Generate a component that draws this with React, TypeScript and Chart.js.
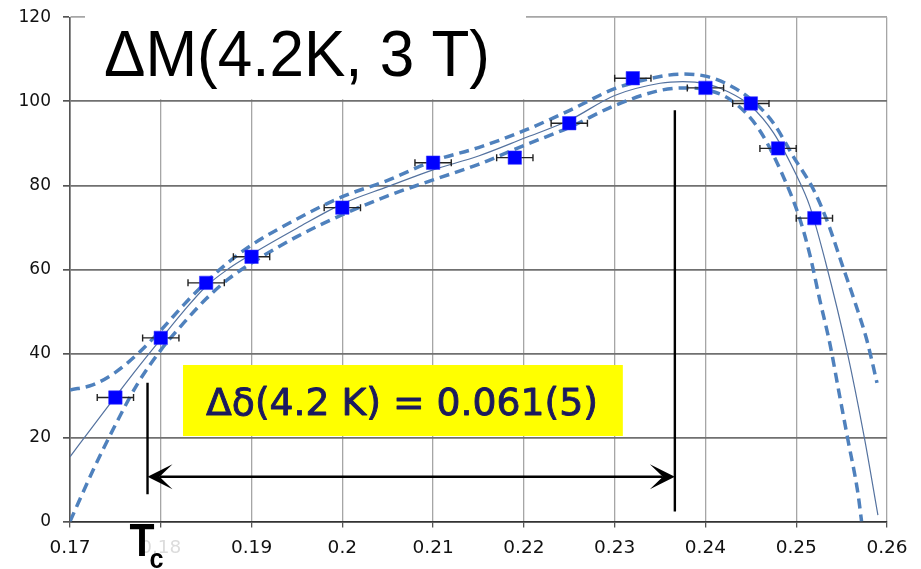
import React, { useEffect, useRef } from 'react';
import { Chart, registerables } from 'chart.js';

Chart.register(...registerables);

// Axis tick labels
const xTickLabels = ['0.17', '0.18', '0.19', '0.2', '0.21', '0.22', '0.23', '0.24', '0.25', '0.26'];
const yTickLabels = ['0', '20', '40', '60', '80', '100', '120'];

// Measured ΔM(4.2 K, 3 T) points with horizontal uncertainty
const deltaX = [0.175, 0.18, 0.185, 0.19, 0.2, 0.21, 0.219, 0.225, 0.232, 0.24, 0.245, 0.248, 0.252];
const deltaM = [29.5, 43.7, 56.8, 63.0, 74.7, 85.4, 86.6, 94.8, 105.5, 103.2, 99.5, 88.8, 72.2];
const deltaXErr = [0.002, 0.002, 0.002, 0.002, 0.002, 0.002, 0.002, 0.002, 0.002, 0.002, 0.002, 0.002, 0.002];

// Fitted curve
const fitX = [0.170, 0.1725, 0.175, 0.1775, 0.180, 0.1825, 0.185, 0.1875, 0.190, 0.195, 0.200, 0.205, 0.210, 0.215, 0.220, 0.225, 0.230, 0.235, 0.2375, 0.240, 0.2425, 0.245, 0.2475, 0.250, 0.2515, 0.2532, 0.2556, 0.2575, 0.259];
const fitY = [15.4, 22.6, 29.7, 36.7, 43.4, 50.0, 56.0, 60.2, 63.6, 69.8, 75.6, 79.7, 83.7, 87.0, 91.2, 95.5, 101.4, 104.3, 104.7, 104.2, 102.3, 98.9, 92.5, 82.5, 75.0, 62.0, 40.5, 20.0, 1.5];

// Confidence band: upper / right branch
const upperX = [0.170, 0.1725, 0.175, 0.1775, 0.180, 0.1825, 0.185, 0.1875, 0.190, 0.195, 0.200, 0.205, 0.210, 0.215, 0.220, 0.225, 0.230, 0.235, 0.2375, 0.240, 0.2425, 0.245, 0.2475, 0.2497, 0.2519, 0.2535, 0.255, 0.2565, 0.2578, 0.2589];
const upperY = [31.3, 32.5, 35.5, 40.0, 45.5, 51.5, 57.0, 61.8, 65.8, 72.0, 77.3, 81.2, 85.8, 89.0, 93.0, 97.8, 103.0, 105.9, 106.5, 106.0, 104.0, 100.5, 94.8, 86.8, 79.0, 71.0, 61.5, 52.0, 43.0, 33.0];

// Confidence band: lower / left branch
const lowerX = [0.170, 0.1725, 0.175, 0.1775, 0.180, 0.1825, 0.185, 0.1875, 0.190, 0.195, 0.200, 0.205, 0.210, 0.215, 0.220, 0.225, 0.230, 0.235, 0.2375, 0.240, 0.243, 0.246, 0.2489, 0.2504, 0.2515, 0.2526, 0.2537, 0.2548, 0.2557, 0.2568, 0.2572];
const lowerY = [0, 12, 23, 33, 40.8, 47.2, 53, 57.8, 61.5, 67.8, 73, 77.5, 81.3, 85, 89.5, 93.8, 99, 102.6, 103.2, 102.8, 100, 93, 80.5, 72, 63.5, 52.7, 42.4, 29.7, 19.4, 6.7, 0];

// Width marker: from Tc to the end of the plateau
const tcX = 0.17854;
const endX = 0.23663;
const arrowY = 10.66;

const titleText = 'ΔM(4.2K, 3 T)';
const widthText = 'Δδ(4.2 K) = 0.061(5)';

const pairs = (xs: number[], ys: number[]) => xs.map((x, i) => ({ x, y: ys[i] }));

function fitText(ctx: CanvasRenderingContext2D, text: string, x: number, y: number, width: number, font: string, color: string, stroke = 0) {
  ctx.save();
  ctx.font = font;
  ctx.fillStyle = color;
  ctx.strokeStyle = color;
  ctx.textAlign = 'left';
  ctx.textBaseline = 'alphabetic';
  const w = ctx.measureText(text).width;
  ctx.translate(x, y);
  ctx.scale(width / w, 1);
  ctx.fillText(text, 0, 0);
  if (stroke > 0) {
    ctx.lineWidth = stroke;
    ctx.lineJoin = 'round';
    ctx.strokeText(text, 0, 0);
  }
  ctx.restore();
}

function arrowHead(ctx: CanvasRenderingContext2D, tipX: number, y: number, dir: number) {
  const L = 25, W = 12.5, N = 12;
  ctx.beginPath();
  ctx.moveTo(tipX, y);
  ctx.lineTo(tipX - dir * L, y - W);
  ctx.lineTo(tipX - dir * N, y);
  ctx.lineTo(tipX - dir * L, y + W);
  ctx.closePath();
  ctx.fill();
}

const errorBars = {
  id: 'errorBars',
  beforeDatasetDraw(chart: any, args: any) {
    if (args.index !== 0) return;
    const { ctx } = chart;
    const xs = chart.scales.x;
    const ys = chart.scales.y;
    ctx.save();
    ctx.strokeStyle = '#222';
    ctx.lineWidth = 1.4;
    deltaX.forEach((x, i) => {
      const y = ys.getPixelForValue(deltaM[i]);
      const x0 = xs.getPixelForValue(x - deltaXErr[i]);
      const x1 = xs.getPixelForValue(x + deltaXErr[i]);
      ctx.beginPath();
      ctx.moveTo(x0, y);
      ctx.lineTo(x1, y);
      ctx.moveTo(x0, y - 3.5);
      ctx.lineTo(x0, y + 3.5);
      ctx.moveTo(x1, y - 3.5);
      ctx.lineTo(x1, y + 3.5);
      ctx.stroke();
    });
    ctx.restore();
  },
};

const annotations = {
  id: 'annotations',
  beforeDatasetsDraw(chart: any) {
    const { ctx, chartArea } = chart;
    // white panel behind the title
    ctx.save();
    ctx.fillStyle = '#ffffff';
    ctx.fillRect(chartArea.left + 15, chartArea.top - 6, 441, 88);
    ctx.restore();
    fitText(ctx, titleText, chartArea.left + 34, chartArea.top + 58.5, 386, '65px "Liberation Sans", Arial, sans-serif', '#000');
  },
  afterDraw(chart: any) {
    const { ctx } = chart;
    const xs = chart.scales.x;
    const ys = chart.scales.y;

    // yellow result box
    const bx0 = xs.getPixelForValue(0.18245);
    const bx1 = xs.getPixelForValue(0.2309);
    const by0 = ys.getPixelForValue(37.25);
    const by1 = ys.getPixelForValue(20.35);
    ctx.save();
    ctx.fillStyle = '#ffff00';
    ctx.fillRect(bx0, by0, bx1 - bx0, by1 - by0);
    ctx.restore();
    fitText(ctx, widthText, bx0 + 23, by1 - 21, 392, '37px "DejaVu Sans", sans-serif', '#1b1a5e', 0.9);

    // vertical markers
    const lx = xs.getPixelForValue(tcX);
    const rx = xs.getPixelForValue(endX);
    const ay = ys.getPixelForValue(arrowY);
    ctx.save();
    ctx.strokeStyle = '#000';
    ctx.fillStyle = '#000';
    ctx.lineWidth = 2.4;
    ctx.beginPath();
    ctx.moveTo(lx, ys.getPixelForValue(33));
    ctx.lineTo(lx, ys.getPixelForValue(6.5));
    ctx.moveTo(rx, ys.getPixelForValue(97.9));
    ctx.lineTo(rx, ys.getPixelForValue(2.4));
    ctx.stroke();

    // double-headed arrow
    ctx.lineWidth = 2.6;
    ctx.beginPath();
    ctx.moveTo(lx + 12, ay);
    ctx.lineTo(rx - 12, ay);
    ctx.stroke();
    arrowHead(ctx, lx, ay, -1);
    arrowHead(ctx, rx, ay, 1);
    ctx.restore();

    // Tc label
    const base = ys.getPixelForValue(0);
    fitText(ctx, 'T', lx - 18, base + 34, 25, 'bold 47px "Liberation Sans", Arial, sans-serif', '#000');
    fitText(ctx, 'c', lx + 2, base + 46, 14, 'bold 27px "Liberation Sans", Arial, sans-serif', '#000');
  },
};

export default function App() {
  const ref = useRef<HTMLCanvasElement>(null);

  useEffect(() => {
    const canvas = ref.current;
    if (!canvas) return;
    const chart = new Chart(canvas, {
      type: 'scatter',
      data: {
        datasets: [
          {
            type: 'scatter',
            label: 'ΔM',
            data: pairs(deltaX, deltaM),
            pointStyle: 'rect',
            pointRadius: 9.5,
            backgroundColor: '#0000ff',
            borderColor: 'rgba(50,50,255,0.55)',
            borderWidth: 1,
            order: 0,
          },
          {
            type: 'line',
            label: 'fit',
            data: pairs(fitX, fitY),
            borderColor: '#54729f',
            borderWidth: 1.2,
            pointRadius: 0,
            cubicInterpolationMode: 'monotone',
            fill: false,
            order: 1,
          },
          {
            type: 'line',
            label: 'upper',
            data: pairs(upperX, upperY),
            borderColor: '#4f81bd',
            borderWidth: 3.5,
            borderDash: [10, 6],
            pointRadius: 0,
            cubicInterpolationMode: 'monotone',
            fill: false,
            order: 2,
          },
          {
            type: 'line',
            label: 'lower',
            data: pairs(lowerX, lowerY),
            borderColor: '#4f81bd',
            borderWidth: 3.5,
            borderDash: [10, 6],
            pointRadius: 0,
            cubicInterpolationMode: 'monotone',
            fill: false,
            order: 3,
          },
        ],
      } as any,
      options: {
        responsive: false,
        animation: false,
        devicePixelRatio: 1,
        events: [],
        layout: { padding: { top: 17.3, right: 34, left: 0, bottom: 0 } },
        plugins: {
          legend: { display: false },
          tooltip: { enabled: false },
          title: { display: false },
        },
        scales: {
          x: {
            type: 'linear',
            min: 0.17,
            max: 0.26,
            afterFit: (s: any) => {
              s.height = 47.5;
              s.paddingLeft = 0;
              s.paddingRight = 0;
            },
            ticks: {
              stepSize: 0.01,
              padding: 10,
              font: { family: '"DejaVu Sans", sans-serif', size: 18.5 },
              color: (c: any) => (c.index === 1 ? '#dcdcdc' : '#111'),
              callback: (_v: any, i: number) => xTickLabels[i],
            },
            grid: { color: '#a6a6a6', lineWidth: 1.3, tickLength: 6, tickColor: '#555' },
            border: { color: '#333', width: 1.6 },
          },
          y: {
            type: 'linear',
            min: 0,
            max: 120,
            afterFit: (s: any) => {
              s.width = 70;
              s.paddingTop = 0;
              s.paddingBottom = 0;
            },
            ticks: {
              stepSize: 20,
              padding: 12,
              font: { family: '"DejaVu Sans", sans-serif', size: 17 },
              color: '#111',
              callback: (_v: any, i: number) => yTickLabels[i],
            },
            grid: {
              color: (c: any) => (c.tick && c.tick.value === 120 ? '#a6a6a6' : '#707070'),
              lineWidth: 1.7,
              tickLength: 7,
              tickColor: '#555',
            },
            border: { color: '#555', width: 1.6 },
          },
        },
      } as any,
      plugins: [errorBars, annotations],
    });
    return () => chart.destroy();
  }, []);

  return (
    <div style={{ position: 'fixed', left: 0, top: 0, width: 921, height: 569, background: '#fff' }}>
      <canvas ref={ref} width={921} height={569} style={{ display: 'block', width: 921, height: 569 }} />
    </div>
  );
}
